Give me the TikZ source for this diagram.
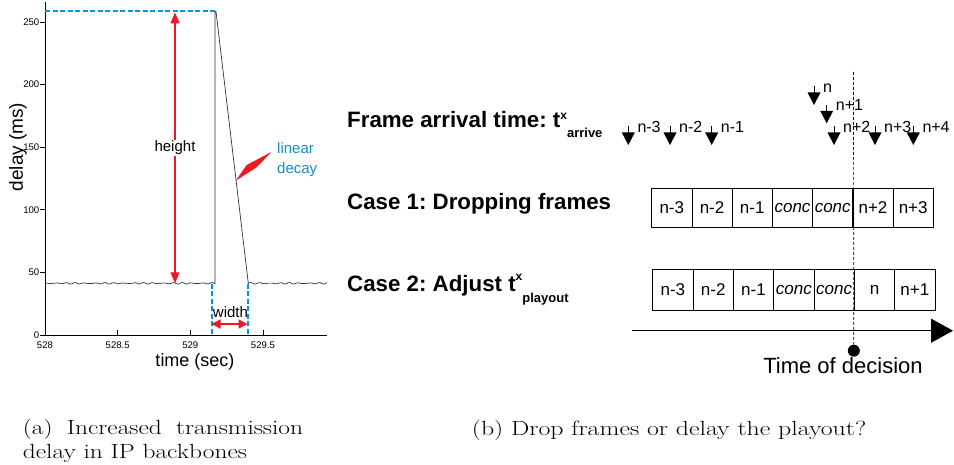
\documentclass[tikz,border=0pt]{standalone}
\usepackage{fontspec}
\setsansfont{Liberation Sans}
\usetikzlibrary{arrows.meta,positioning}
\definecolor{lineblue}{RGB}{0,150,225}
\definecolor{textblue}{RGB}{25,140,200}
\definecolor{arrred}{RGB}{235,25,35}
\frenchspacing
% arrival marker: name, tip x, tip y, label
\newcommand{\arrmark}[4]{%
  \fill ({#2},{#3}) -- ++(-6.5,-12.5) -- ++(13,0) -- cycle;
  \draw[line width=0.7pt] ({#2},{#3-12}) -- ({#2},{#3-18.5});
  \node[arrlab] (#1) at ({#2+9},{#3-12.5}) {#4};}
\begin{document}
\begin{tikzpicture}[x=1pt,y=-1pt,line join=round,
    ticklab/.style={font=\sffamily\fontsize{9.6}{10}\selectfont,inner sep=0pt},
    plotlab/.style={font=\sffamily\fontsize{15}{20}\selectfont,inner sep=1pt},
    bluedash/.style={draw=lineblue,line width=2pt,dashed,dash pattern=on 5pt off 2.5pt},
    redarr/.style={color=arrred,line width=1.3pt,
      {Triangle[length=11pt,width=9pt]}-{Triangle[length=11pt,width=9pt]}},
    frame/.style={draw,line width=0.7pt,minimum width=40.3pt,minimum height=40pt,
      inner sep=0pt,outer sep=0pt,font=\sffamily\fontsize{17}{17}\selectfont},
    casetext/.style={font=\sffamily\bfseries\fontsize{22.3}{24}\selectfont,
      inner sep=0pt,anchor=base west},
    arrlab/.style={font=\sffamily\fontsize{16}{16}\selectfont,inner sep=0pt,
      anchor=base west},
    captext/.style={font=\fontsize{20.5}{24}\selectfont,inner sep=0pt,
      anchor=base west}]
  \useasboundingbox (0,0) rectangle (954,465);

  % Draw axes
  \draw[line width=0.8pt] (45,2) -- (45,335) -- (327,335);
  \foreach \v in {0,50,...,250} {
    \draw[line width=0.6pt] (40,{335-1.252*\v}) -- (45,{335-1.252*\v});
    \node[ticklab,anchor=east] (yt\v) at (39.5,{335-1.252*\v}) {\v};
  }
  \foreach \t/\lab in {0/528,72.7/528.5,145.3/529,218/529.5} {
    \draw[line width=0.6pt] ({45+\t},330) -- ({45+\t},335);
    \node[ticklab] (xt\lab) at ({45+\t},345) {\lab};
  }
  \node[font=\sffamily\fontsize{19}{19}\selectfont,rotate=90] (ylab) at (18,147) {delay (ms)};
  \node[font=\sffamily\fontsize{18}{18}\selectfont] (xlab) at (195,362) {time (sec)};

  % Draw delay trace
  \draw[line width=0.7pt,black!80]
    plot[domain=45:215,samples=120] (\x,{283.3+0.5*sin(37*\x)+0.3*sin(47*\x)})
    -- (215,12) -- (216,11.5) -- (248.3,283.3)
    -- plot[domain=248.3:327,samples=60] (\x,{283.3+0.5*sin(37*\x)+0.3*sin(47*\x)});

  % Draw blue guides
  \draw[bluedash] (45,11.5) -- (216,11.5);
  \draw[bluedash] (211.5,284) -- (211.5,335);
  \draw[bluedash] (247.5,284) -- (247.5,335);

  % Draw height and width
  \coordinate (hb) at (175,283.3);
  \coordinate (ht) at (175,12.5);
  \draw[redarr] (hb) -- node[plotlab,fill=white,text=black] (hlab) {height} (ht);
  \coordinate (wl) at (211.5,324);
  \coordinate (wr) at (247.5,324);
  \draw[color=arrred,line width=1.3pt,
    {Triangle[length=9pt,width=9pt]}-{Triangle[length=9pt,width=9pt]}] (wl) -- (wr);
  \node[plotlab] (wlab) at (230.5,312) {width};

  % Draw linear decay pointer
  \fill[arrred] (235.7,180.7) -- (246.7,165) -- (271.5,152) -- (256.7,167.3) -- cycle;
  \node[plotlab,text=textblue,align=left,anchor=west] (dlab) at (276,160) {linear\\decay};

  % Draw row titles
  \node[casetext] (hdr) at (347,128) {Frame arrival time: t\raisebox{8pt}{\fontsize{12}{12}\selectfont x}\raisebox{-10pt}{\fontsize{13}{13}\selectfont arrive}};
  \node[casetext] (case1) at (347,210) {Case 1: Dropping frames};
  \node[casetext] (case2) at (347,292) {Case 2: Adjust t\raisebox{11pt}{\fontsize{12}{12}\selectfont x}\raisebox{-11pt}{\fontsize{13}{13}\selectfont playout}};

  % Draw arrivals
  \arrmark{a1}{628.3}{145}{n-3}
  \arrmark{a2}{670}{145}{n-2}
  \arrmark{a3}{711.7}{145}{n-1}
  \arrmark{a4}{814}{105}{n}
  \arrmark{a5}{826.7}{123.3}{n+1}
  \arrmark{a6}{834}{145}{n+2}
  \arrmark{a7}{875}{145}{n+3}
  \arrmark{a8}{913.3}{145}{n+4}

  % Draw playout frames
  \foreach \lab [count=\i] in {n-3,n-2,n-1,\textit{conc},\textit{conc},n+2,n+3}
    \node[frame,minimum height=39pt] (ra\i) at ({651.7+40.23*(\i-0.5)},207.8) {\lab};
  \foreach \lab [count=\i] in {n-3,n-2,n-1,\textit{conc},\textit{conc},n,n+1}
    \node[frame,minimum height=40.7pt] (rb\i) at ({652.7+40.33*(\i-0.5)},289.7) {\lab};

  % Draw time line and decision
  \coordinate (t0) at (631.7,330.7);
  \coordinate (t1) at (953,330.7);
  \draw[line width=1.2pt,-{Triangle[length=22pt,width=24pt]}] (t0) -- (t1);
  \coordinate (dtop) at (853.5,72);
  \node[circle,fill,inner sep=0pt,minimum size=12pt] (dec) at (853.8,350.7) {};
  \draw[line width=0.7pt,dash pattern=on 3pt off 2pt] (dtop) -- (dec);
  \node[font=\sffamily\fontsize{22}{22}\selectfont,inner sep=0pt] (tdec) at (843,366) {Time of decision};

  % Draw captions
  \node[captext] (capa) at (22.7,434.3)
    {\scalebox{1.24}[1]{\parbox[t]{226pt}{(a) Increased transmission\linebreak delay in IP backbones}}};
  \node[captext] (capb) at (471.7,435) {\scalebox{1.26}[1]{(b) Drop frames or delay the playout?}};
\end{tikzpicture}
\end{document}
